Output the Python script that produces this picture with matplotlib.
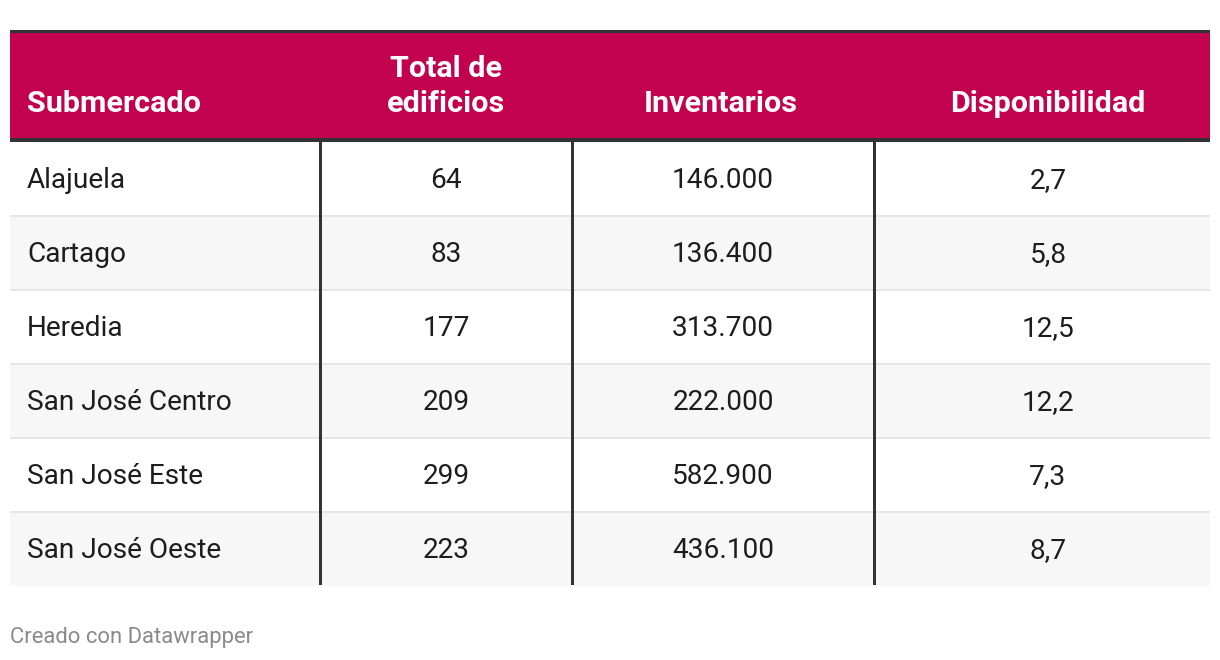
import matplotlib
matplotlib.use("Agg")
import matplotlib.pyplot as plt
from matplotlib.patches import Rectangle

# ---- data ----
headers = ["Submercado", "Total de\nedificios", "Inventarios", "Disponibilidad"]
submercados = ["Alajuela", "Cartago", "Heredia", "San José Centro", "San José Este", "San José Oeste"]
total_edificios = [64, 83, 177, 209, 299, 223]
inventarios = [146000, 136400, 313700, 222000, 582900, 436100]
disponibilidad = [2.7, 5.8, 12.5, 12.2, 7.3, 8.7]
footer = "Creado con Datawrapper"

def fmt_int(v):
    return f"{v:,.0f}".replace(",", ".")

def fmt_dec(v):
    return f"{v:.1f}".replace(".", ",")

# ---- layout (pixels) ----
W, H = 1220, 660
px = 72 / 100  # points per pixel at dpi 100
fig = plt.figure(figsize=(W / 100, H / 100), dpi=100)
ax = fig.add_axes([0, 0, 1, 1])
ax.set_xlim(0, W)
ax.set_ylim(H, 0)
ax.axis("off")

left, right = 10, 1210
top_line = 30
head_top, head_bot = 33, 138
row_top = 141
row_h = 74
col_x = [321, 573, 875]
col_centers = [None, 446, 721, 1048]

magenta = "#C2024F"
dark = "#333333"
fs = 28 * px
hfs = 30.5 * px
family = ["Roboto", "DejaVu Sans"]

# header background
ax.add_patch(Rectangle((left, head_top), right - left, head_bot - head_top, color=magenta, lw=0))
ax.add_patch(Rectangle((left, top_line), right - left, 3, color=dark, lw=0))
ax.add_patch(Rectangle((left, head_bot), right - left, 3.5, color=dark, lw=0))

# header text
ax.text(27, 104, headers[0], ha="left", va="center", color="white", fontsize=hfs,
        fontweight="bold", family=family)
for i in range(1, 4):
    lines = headers[i].split("\n")
    ax.text(col_centers[i], 104, lines[-1], ha="center", va="center",
            color="white", fontsize=hfs, fontweight="bold", family=family)
    if len(lines) > 1:
        ax.text(col_centers[i], 69, lines[0], ha="center", va="center",
                color="white", fontsize=hfs, fontweight="bold", family=family)

# rows
n = len(submercados)
for r in range(n):
    y0 = row_top + 0.5 + r * row_h
    if r % 2 == 1:
        ax.add_patch(Rectangle((left, y0), right - left, row_h, color="#F7F7F7", lw=0))
    if r > 0:
        ax.add_patch(Rectangle((left, y0 - 1), right - left, 2, color="#E6E6E6", lw=0))
    yc = y0 + row_h / 2 + 2
    vals = [submercados[r], str(total_edificios[r]), fmt_int(inventarios[r]), fmt_dec(disponibilidad[r])]
    ax.text(27, yc, vals[0], ha="left", va="center", color="#1d1d1d", fontsize=fs, family=family)
    for i in range(1, 4):
        ax.text(col_centers[i] if i != 2 else 723, yc, vals[i], ha="center", va="center",
                color="#1d1d1d", fontsize=fs, family=family)

table_bot = row_top + n * row_h
for x in col_x:
    ax.add_patch(Rectangle((x - 2, row_top), 3, table_bot - row_top, color=dark, lw=0))

# footer
ax.text(10, 637, footer, ha="left", va="center", color="#8a8a8a", fontsize=22 * px, family=family)

fig.savefig("out.png", dpi=100)
